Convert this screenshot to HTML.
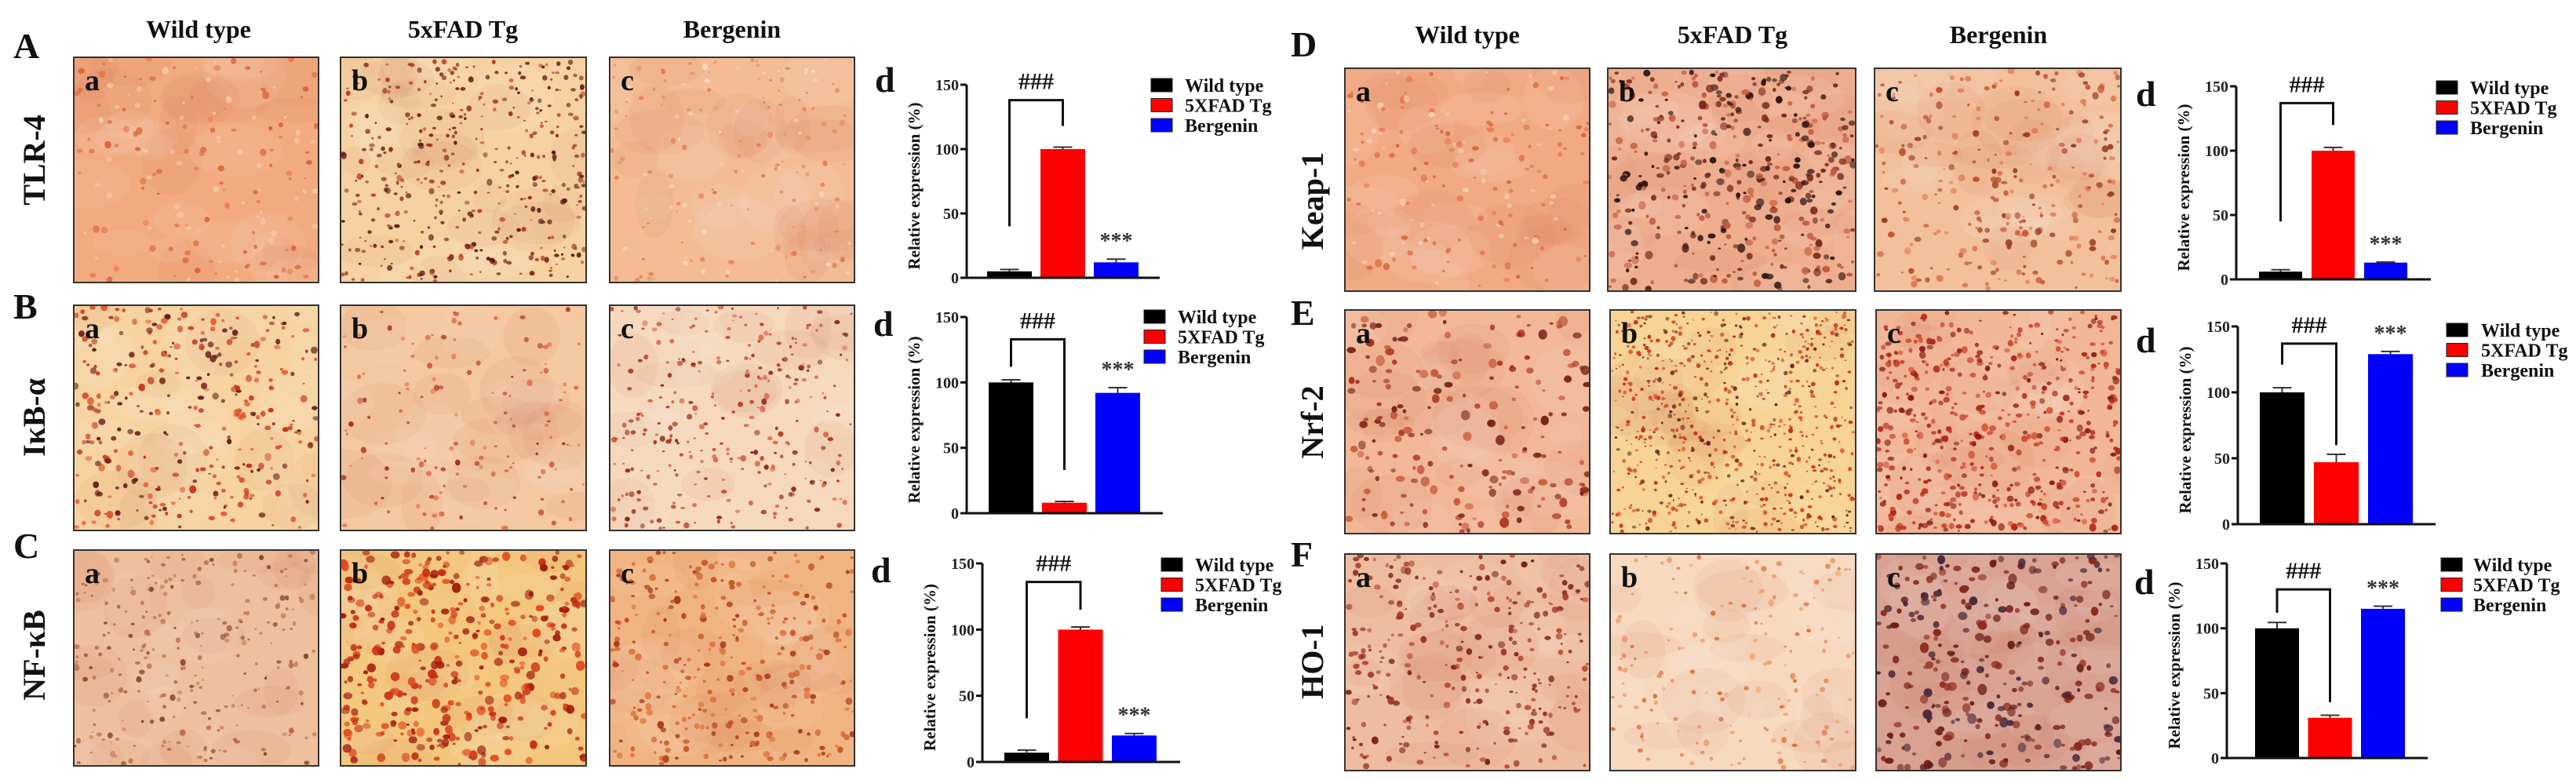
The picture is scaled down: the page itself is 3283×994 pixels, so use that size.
<!DOCTYPE html>
<html><head><meta charset="utf-8"><title>Bergenin IHC figure</title>
<style>
html,body{margin:0;padding:0;background:#fff;}
svg{display:block;font-family:"Liberation Serif",serif;font-weight:bold;}
</style></head>
<body>
<svg id="fig" width="3283" height="994" viewBox="0 0 3283 994" xmlns="http://www.w3.org/2000/svg">
  <defs id="defs"></defs>
  <g id="headers" font-size="32" text-anchor="middle" fill="#111">
    <text x="253" y="48">Wild type</text>
    <text x="590" y="48">5xFAD Tg</text>
    <text x="933" y="48">Bergenin</text>
    <text x="1870" y="55">Wild type</text>
    <text x="2208" y="55">5xFAD Tg</text>
    <text x="2547" y="55">Bergenin</text>
  </g>
  <g id="rowletters" font-size="46" fill="#111">
    <text x="17" y="74">A</text>
    <text x="17" y="406">B</text>
    <text x="17" y="711">C</text>
    <text x="1645" y="72">D</text>
    <text x="1645" y="414">E</text>
    <text x="1645" y="722">F</text>
  </g>
  <g id="rowlabels" font-size="40" fill="#111" text-anchor="middle">
    <text transform="translate(57,204) rotate(-90)">TLR-4</text>
    <text transform="translate(57,532) rotate(-90)">IκB-α</text>
    <text transform="translate(57,835) rotate(-90)">NF-κB</text>
    <text transform="translate(1686,256) rotate(-90)">Keap-1</text>
    <text transform="translate(1686,538) rotate(-90)">Nrf-2</text>
    <text transform="translate(1686,843) rotate(-90)">HO-1</text>
  </g>
  <g id="images"></g>
  <g id="charts"></g>
</svg>
<script>
// ---- chart data ----
const categories = ["Wild type", "5XFAD Tg", "Bergenin"];
const barColors = ["#000000", "#ff0000", "#0000ff"];
const yTicks = [0, 50, 100, 150];
const tlr4Values = [5, 100, 12];
const tlr4Errors = [1.5, 1.5, 2.5];
const ikbValues = [100, 8, 92];
const ikbErrors = [2, 1, 4];
const nfkbValues = [7, 100, 20];
const nfkbErrors = [2, 2, 1.5];
const keap1Values = [6, 100, 13];
const keap1Errors = [1.5, 2.5, 0.5];
const nrf2Values = [100, 47, 129];
const nrf2Errors = [3.5, 6, 2];
const ho1Values = [100, 31, 115];
const ho1Errors = [4.5, 2, 2];
// bracket: [top, left-end, right-end] in data units
const tlr4Bracket = [138, 40, 118];
const ikbBracket = [133, 112, 33];
const nfkbBracket = [136, 33, 115];
const keap1Bracket = [137, 45, 120];
const nrf2Bracket = [137, 121, 60];
const ho1Bracket = [130, 112, 43];

const NS = "http://www.w3.org/2000/svg";
function mk(tag, attrs, parent) {
  const e = document.createElementNS(NS, tag);
  for (const k in attrs) e.setAttribute(k, attrs[k]);
  if (parent) parent.appendChild(e);
  return e;
}

// ---- micrographs (decorative texture, deterministic) ----
function prng(seed) { return function () { seed |= 0; seed = seed + 0x6D2B79F5 | 0; let t = Math.imul(seed ^ seed >>> 15, 1 | seed); t = t + Math.imul(t ^ t >>> 7, 61 | t) ^ t; return ((t ^ t >>> 14) >>> 0) / 4294967296; }; }
const panels = [
  [94, 73, 312, 287, "a", "#f2aa80", 160, ["#e5764a", "#f7c8a5", "#d9663b"], 3, "tlr4-wild-type"],
  [434, 73, 313, 287, "b", "#f6d2a2", 420, ["#8a2a18", "#b8401e", "#5a1a10"], 2.5, "tlr4-5xfad"],
  [777, 73, 312, 287, "c", "#f3bc95", 160, ["#e58b62", "#f8d5bb", "#e47a4f"], 2.5, "tlr4-bergenin"],
  [94, 389, 312, 287, "a", "#f6d3a0", 330, ["#c8361a", "#e2532a", "#6a1f18"], 3, "ikb-wild-type"],
  [434, 389, 313, 287, "b", "#f4c8a0", 140, ["#c84a2a", "#a23020", "#e07050"], 2.5, "ikb-5xfad"],
  [777, 389, 312, 287, "c", "#f6d8bc", 300, ["#b83a22", "#8a2a1a", "#d86a48"], 2.5, "ikb-bergenin"],
  [94, 701, 312, 275, "a", "#eec09e", 260, ["#b86a48", "#c47a55", "#8a4a30"], 2.5, "nfkb-wild-type"],
  [434, 701, 313, 275, "b", "#f4c77e", 380, ["#c82a10", "#a01c0c", "#e04a1c"], 4, "nfkb-5xfad"],
  [777, 701, 312, 275, "c", "#f0b482", 300, ["#c8501e", "#a83a18", "#e0703a"], 3, "nfkb-bergenin"],
  [1714, 87, 312, 284, "a", "#f1aa84", 160, ["#e2754d", "#f8cdb0", "#d9683f"], 3, "keap1-wild-type"],
  [2049, 87, 316, 284, "b", "#eeae8e", 420, ["#2a1210", "#7a2a1c", "#c25a40"], 3.5, "keap1-5xfad"],
  [2389, 87, 314, 284, "c", "#f2c09a", 260, ["#c2502c", "#9a3a22", "#e07a52"], 3, "keap1-bergenin"],
  [1714, 395, 312, 285, "a", "#f2b898", 200, ["#a8301c", "#c85a3a", "#7a2418"], 4, "nrf2-wild-type"],
  [2052, 395, 313, 285, "b", "#f7d394", 700, ["#d8401c", "#c22a14", "#6a2a20"], 2, "nrf2-5xfad"],
  [2391, 395, 312, 285, "c", "#f1b797", 520, ["#b8281a", "#8a1c14", "#d04a30"], 3, "nrf2-bergenin"],
  [1714, 706, 312, 276, "a", "#eebd9f", 300, ["#9a3020", "#b84a30", "#7a2418"], 3, "ho1-wild-type"],
  [2052, 706, 313, 276, "b", "#f7d9bf", 160, ["#e88a5a", "#f0a070", "#d8703c"], 2.5, "ho1-5xfad"],
  [2391, 706, 312, 276, "c", "#d9a292", 300, ["#6a1a14", "#4a2a3a", "#8a2a1c"], 4, "ho1-bergenin"]
];
const imgG = document.getElementById("images");
const defs = document.getElementById("defs");
panels.forEach(function (p, i) {
  const cp = mk("clipPath", { id: "clip" + i }, defs);
  mk("rect", { x: p[0], y: p[1], width: p[2], height: p[3] }, cp);
  const g = mk("g", {}, imgG);
  
  
  const inner = mk("g", { "clip-path": "url(#clip" + i + ")" }, g);
  mk("rect", { x: p[0], y: p[1], width: p[2], height: p[3], fill: p[5] }, inner);
  const r = prng(1000 + i * 77);
  for (let k = 0; k < 30; k++) {
    mk("ellipse", { cx: p[0] + r() * p[2], cy: p[1] + r() * p[3], rx: 20 + r() * 40, ry: 15 + r() * 30, fill: r() < 0.5 ? "#ffffff" : "#c06040", opacity: 0.07 }, inner);
  }
  for (let k = 0; k < p[6]; k++) {
    const s = p[8] * (0.5 + r());
    mk("ellipse", { cx: (p[0] + 2 + r() * (p[2] - 4)).toFixed(1), cy: (p[1] + 2 + r() * (p[3] - 4)).toFixed(1), rx: s.toFixed(1), ry: (s * (0.6 + r() * 0.6)).toFixed(1), fill: p[7][Math.floor(r() * 3)], opacity: (0.55 + r() * 0.45).toFixed(2) }, inner);
  }
  mk("rect", { x: p[0], y: p[1], width: p[2], height: p[3], fill: "none", stroke: "#333", "stroke-width": 2 }, g);
  const t = mk("text", { x: p[0] + 14, y: p[1] + 42, "font-size": 38, fill: "#111" }, g);
  t.textContent = p[4];
  
  
});

// ---- charts ----
const chartLayouts = [
  { name: "tlr4", values: tlr4Values, errors: tlr4Errors, bracket: tlr4Bracket, ax: 1232, y0: 354, y150: 108, xEnd: 1478, b0: 1258, bw: 57, pitch: 68, dx: 1115, dy: 117, lx: 1467, ly: 100, tx: 1510 },
  { name: "ikb-alpha", values: ikbValues, errors: ikbErrors, bracket: ikbBracket, ax: 1232, y0: 654, y150: 404, xEnd: 1482, b0: 1260, bw: 57, pitch: 68, dx: 1113, dy: 428, lx: 1458, ly: 395, tx: 1501 },
  { name: "nfkb", values: nfkbValues, errors: nfkbErrors, bracket: nfkbBracket, ax: 1252, y0: 971, y150: 718, xEnd: 1504, b0: 1280, bw: 57, pitch: 68.5, dx: 1110, dy: 742, lx: 1480, ly: 711, tx: 1523 },
  { name: "keap1", values: keap1Values, errors: keap1Errors, bracket: keap1Bracket, ax: 2850, y0: 356, y150: 110, xEnd: 3098, b0: 2879, bw: 55, pitch: 67, dx: 2722, dy: 135, lx: 3105, ly: 103, tx: 3148 },
  { name: "nrf2", values: nrf2Values, errors: nrf2Errors, bracket: nrf2Bracket, ax: 2852, y0: 668, y150: 416, xEnd: 3104, b0: 2880, bw: 57, pitch: 69, dx: 2722, dy: 449, lx: 3118, ly: 412, tx: 3162 },
  { name: "ho1", values: ho1Values, errors: ho1Errors, bracket: ho1Bracket, ax: 2838, y0: 966, y150: 718, xEnd: 3094, b0: 2874, bw: 56, pitch: 67.5, dx: 2720, dy: 757, lx: 3111, ly: 711, tx: 3152 }
];
const chartsG = document.getElementById("charts");
chartLayouts.forEach(function (c) {
  const g = mk("g", { stroke: "none" }, chartsG);
  
  
  const yScale = function (v) { return c.y0 - (v / 150) * (c.y0 - c.y150); };
  const xBar = function (i) { return c.b0 + i * c.pitch; };
  const xMid = function (i) { return xBar(i) + c.bw / 2; };

  const d = mk("text", { x: c.dx, y: c.dy, "font-size": 46, fill: "#111" }, g);
  d.textContent = "d";
  
  

  c.values.forEach(function (v, i) {
    const top = yScale(v);
    const bar = mk("rect", { x: xBar(i), y: top, width: c.bw, height: c.y0 - top, fill: barColors[i] }, g);
    
    
    const ey = yScale(v + c.errors[i]);
    const eb = mk("path", { d: "M" + xMid(i) + " " + top + "V" + ey + "M" + (xMid(i) - 12) + " " + ey + "H" + (xMid(i) + 12), stroke: "#333", "stroke-width": 2, fill: "none" }, g);
    
    
  });

  const axis = mk("path", { d: "M" + c.ax + " " + c.y150 + "V" + c.y0 + "H" + c.xEnd, stroke: "#111", "stroke-width": 3, fill: "none" }, g);
  
  
  yTicks.forEach(function (t) {
    const y = yScale(t);
    mk("line", { x1: c.ax - 8, x2: c.ax, y1: y, y2: y, stroke: "#111", "stroke-width": 3 }, g);
    const tl = mk("text", { x: c.ax - 10, y: y + 7, "font-size": 20, "text-anchor": "end", fill: "#222" }, g);
    tl.textContent = t;
    
    
  });
  const yt = mk("text", { transform: "translate(" + (c.ax - 60) + "," + ((c.y0 + c.y150) / 2 + 6) + ") rotate(-90)", "font-size": 21, "text-anchor": "middle", fill: "#111" }, g);
  yt.textContent = "Relative expression (%)";
  
  

  const bt = yScale(c.bracket[0]);
  const br = mk("path", { d: "M" + xMid(0) + " " + yScale(c.bracket[1]) + "V" + bt + "H" + xMid(1) + "V" + yScale(c.bracket[2]), stroke: "#111", "stroke-width": 3, fill: "none" }, g);
  
  
  const hs = mk("text", { x: (xMid(0) + xMid(1)) / 2, y: bt - 14, "font-size": 30, "text-anchor": "middle", fill: "#111" }, g);
  hs.textContent = "###";
  
  
  const st = mk("text", { x: xMid(2), y: yScale(c.values[2] + c.errors[2]) - 14, "font-size": 28, "text-anchor": "middle", fill: "#333" }, g);
  st.textContent = "***";
  
  

  categories.forEach(function (name, i) {
    const y = c.ly + i * 25.5;
    const sw = mk("rect", { x: c.lx, y: y, width: 27, height: 17, fill: barColors[i], stroke: "#222", "stroke-width": 1 }, g);
    
    
    const lt = mk("text", { x: c.tx, y: y + 17, "font-size": 24, fill: "#111" }, g);
    lt.textContent = name;
    
    
  });
});
</script>
</body></html>
